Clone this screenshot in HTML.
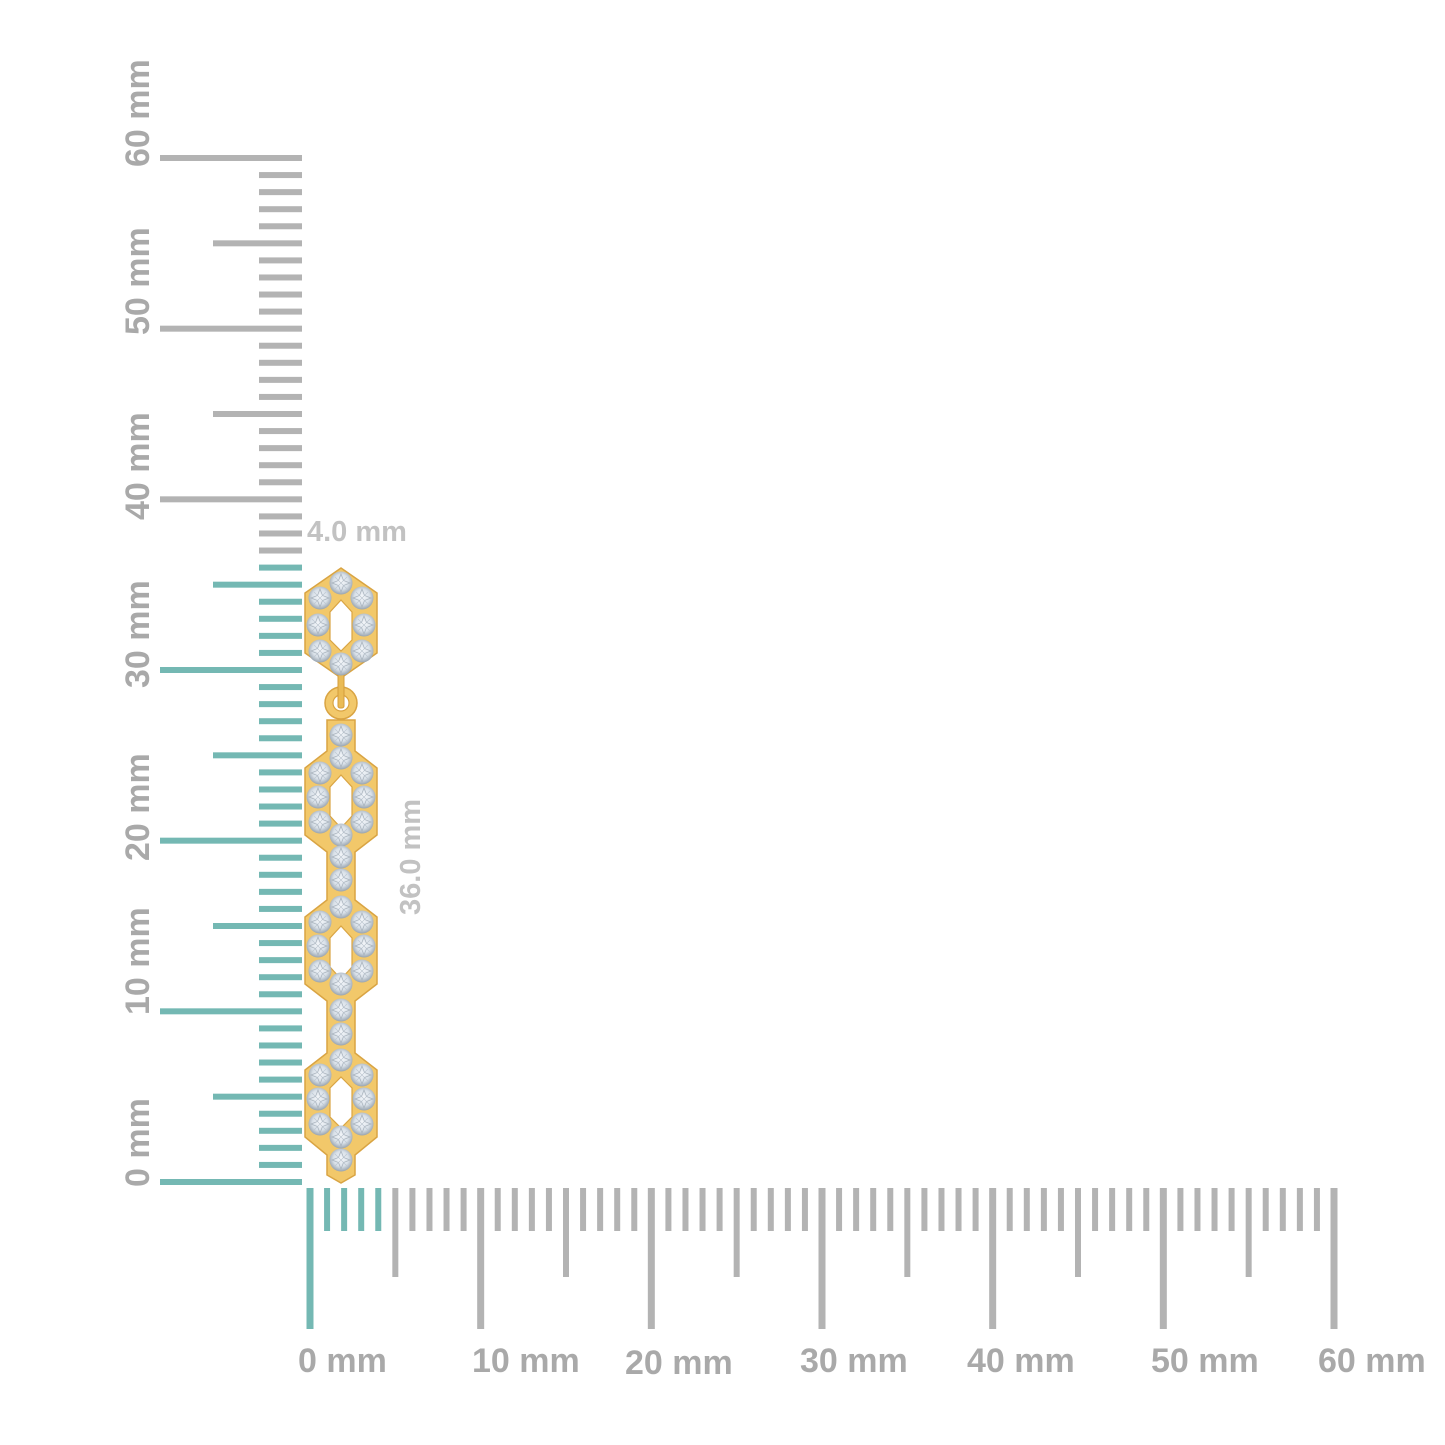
<!DOCTYPE html>
<html>
<head>
<meta charset="utf-8">
<style>
html,body{margin:0;padding:0;background:#fff;}
svg{display:block;}
text{font-family:"Liberation Sans",Arial,sans-serif;font-weight:bold;}
</style>
</head>
<body>
<svg width="1445" height="1445" viewBox="0 0 1445 1445" xmlns="http://www.w3.org/2000/svg">
<defs>
<radialGradient id="st" cx="50%" cy="45%" r="55%">
<stop offset="0%" stop-color="#f6f8fb"/>
<stop offset="60%" stop-color="#d8e0e8"/>
<stop offset="100%" stop-color="#98a3ae"/>
</radialGradient>
<g id="stone">
<circle r="11.5" fill="url(#st)"/>
<path d="M0,-9 L2.5,-2.5 L9,0 L2.5,2.5 L0,9 L-2.5,2.5 L-9,0 L-2.5,-2.5Z" fill="none" stroke="#aab4be" stroke-width="0.8"/>
<path d="M-6,-6 L6,6 M6,-6 L-6,6" stroke="#bcc6d0" stroke-width="0.7"/>
</g>
</defs>
<rect width="1445" height="1445" fill="#fff"/>

<g id="vticks"></g>
<g id="hticks"></g>

<!-- labels horizontal -->
<g font-size="34" fill="#a9a9a9">
<text x="298" y="1372">0 mm</text>
<text x="472" y="1372">10 mm</text>
<text x="625" y="1374">20 mm</text>
<text x="800" y="1372">30 mm</text>
<text x="967" y="1372">40 mm</text>
<text x="1151" y="1372">50 mm</text>
<text x="1318" y="1372">60 mm</text>
</g>
<!-- labels vertical -->
<g font-size="34" fill="#a9a9a9">
<text transform="translate(149,167) rotate(-90)">60 mm</text>
<text transform="translate(149,335) rotate(-90)">50 mm</text>
<text transform="translate(149,520) rotate(-90)">40 mm</text>
<text transform="translate(149,688) rotate(-90)">30 mm</text>
<text transform="translate(149,861) rotate(-90)">20 mm</text>
<text transform="translate(149,1015) rotate(-90)">10 mm</text>
<text transform="translate(149,1187) rotate(-90)">0 mm</text>
</g>
<text x="307" y="541" font-size="29" fill="#c2c2c2">4.0 mm</text>
<text transform="translate(420,915) rotate(-90)" font-size="29" fill="#c2c2c2">36.0 mm</text>

<!-- earring -->
<g stroke="#d9a443" stroke-width="1.5" fill="#f2c86a">
<polygon points="341,568 377,593 377,653 341,678 305,653 305,593"/>
<circle cx="341" cy="703" r="16"/>
<polygon points="327,720 355,720 355,751 377,768 377,835 355,852 355,900 377,917 377,984 355,1001 355,1053 377,1070 377,1137 355,1155 355,1175 341,1183 327,1175 327,1155 305,1137 305,1070 327,1053 327,1001 305,984 305,917 327,900 327,852 305,835 305,768 327,751"/>
</g>
<g fill="#fff" stroke="#d9a443" stroke-width="1.2">
<polygon points="341,600 352,612 352,640 341,651 330,640 330,612"/>
<circle cx="341" cy="703" r="8"/>
<polygon points="341,775 352,787 352,816 341,828 330,816 330,787"/>
<polygon points="341,926 352,938 352,967 341,979 330,967 330,938"/>
<polygon points="341,1077 352,1088 352,1117 341,1128 330,1117 330,1088"/>
</g>
<rect x="338" y="672" width="6" height="36" rx="2" fill="#eabb55" stroke="#d49c3c" stroke-width="1"/>

<g id="stones"></g>
</svg>
<script>
(function(){
var ns="http://www.w3.org/2000/svg";
var vt=document.getElementById("vticks"),ht=document.getElementById("hticks");
var step=1024/60, teal="#74b8b3", gray="#b3b3b3";
for(var i=0;i<=60;i++){
 var y=1182-i*step, x1;
 if(i%10==0)x1=160; else if(i%5==0)x1=213; else x1=259;
 var r=document.createElementNS(ns,"rect");
 r.setAttribute("x",x1);r.setAttribute("y",(y-3).toFixed(2));
 r.setAttribute("width",302-x1);r.setAttribute("height",6);
 r.setAttribute("fill",i<=36?teal:gray);vt.appendChild(r);
 var x=310+i*step, y2, w;
 if(i%10==0){y2=1329;w=7;} else if(i%5==0){y2=1277;w=6;} else {y2=1231;w=6;}
 var h=document.createElementNS(ns,"rect");
 h.setAttribute("x",(x-w/2).toFixed(2));h.setAttribute("y",1188);
 h.setAttribute("width",w);h.setAttribute("height",y2-1188);
 h.setAttribute("fill",i<=4?teal:gray);ht.appendChild(h);
}
var sg=document.getElementById("stones");
var pts=[[341,583],[320,598],[362,598],[318,625],[364,625],[320,651],[362,651],[341,664],[341,735]];
function hex(t){pts.push([341,t],[320,t+15],[362,t+15],[318,t+39],[364,t+39],[320,t+64],[362,t+64],[341,t+77]);}
hex(758);pts.push([341,857],[341,880]);
hex(907);pts.push([341,1010],[341,1034]);
hex(1060);pts.push([341,1160]);
pts.forEach(function(p){
 var u=document.createElementNS(ns,"use");
 u.setAttribute("href","#stone");
 u.setAttribute("transform","translate("+p[0]+","+p[1]+")");
 sg.appendChild(u);
});
})();
</script>
</body>
</html>
